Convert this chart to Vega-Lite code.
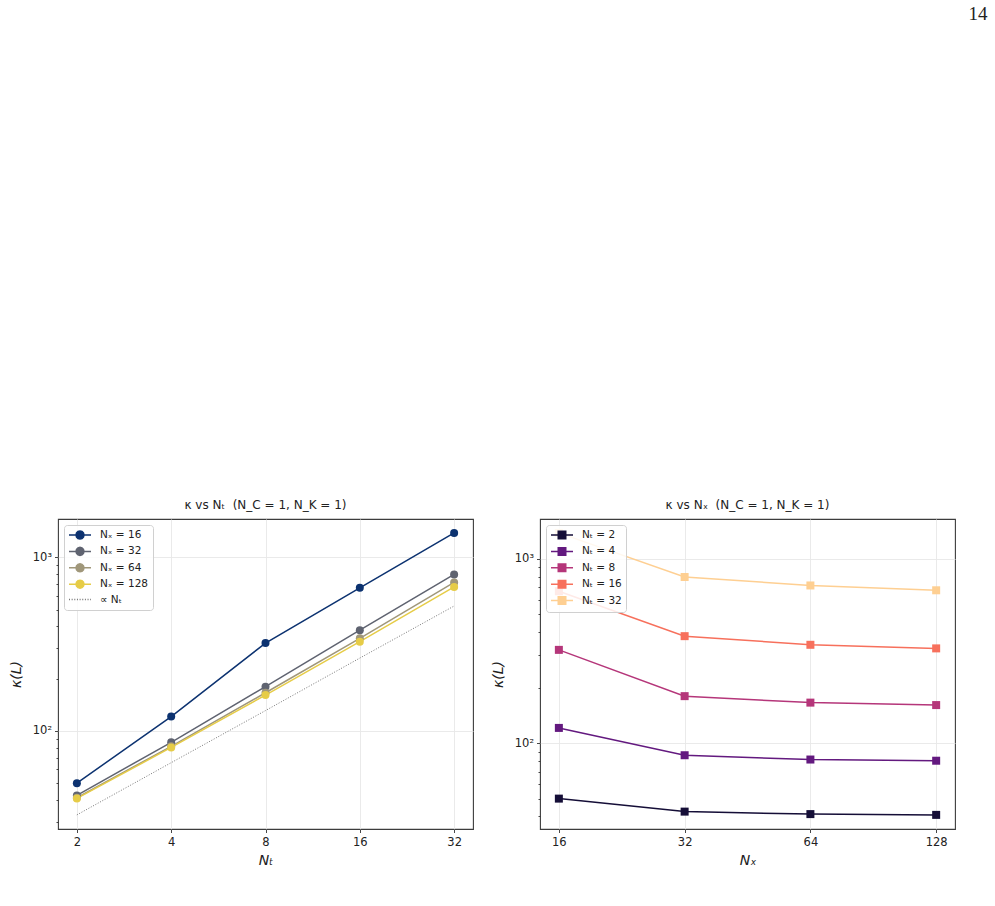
{
  "$schema": "https://vega.github.io/schema/vega-lite/v6.json",
  "padding": {"left": 8, "top": 5, "right": 5, "bottom": 5},
  "title": {"text": "14", "anchor": "end", "font": "Liberation Serif", "fontSize": 19, "fontWeight": "normal", "color": "#222", "offset": 474, "dx": 32},
  "datasets": {
    "kappa": [
      {"Nt": 2, "Nx": 16, "kappa": 50.0, "sx": "Nₓ = 16", "st": "Nₜ = 2"},
      {"Nt": 4, "Nx": 16, "kappa": 121, "sx": "Nₓ = 16", "st": "Nₜ = 4"},
      {"Nt": 8, "Nx": 16, "kappa": 321, "sx": "Nₓ = 16", "st": "Nₜ = 8"},
      {"Nt": 16, "Nx": 16, "kappa": 668, "sx": "Nₓ = 16", "st": "Nₜ = 16"},
      {"Nt": 32, "Nx": 16, "kappa": 1385, "sx": "Nₓ = 16", "st": "Nₜ = 32"},
      {"Nt": 2, "Nx": 32, "kappa": 42.5, "sx": "Nₓ = 32", "st": "Nₜ = 2"},
      {"Nt": 4, "Nx": 32, "kappa": 86, "sx": "Nₓ = 32", "st": "Nₜ = 4"},
      {"Nt": 8, "Nx": 32, "kappa": 180, "sx": "Nₓ = 32", "st": "Nₜ = 8"},
      {"Nt": 16, "Nx": 32, "kappa": 381, "sx": "Nₓ = 32", "st": "Nₜ = 16"},
      {"Nt": 32, "Nx": 32, "kappa": 798, "sx": "Nₓ = 32", "st": "Nₜ = 32"},
      {"Nt": 2, "Nx": 64, "kappa": 41.2, "sx": "Nₓ = 64", "st": "Nₜ = 2"},
      {"Nt": 4, "Nx": 64, "kappa": 81.5, "sx": "Nₓ = 64", "st": "Nₜ = 4"},
      {"Nt": 8, "Nx": 64, "kappa": 166, "sx": "Nₓ = 64", "st": "Nₜ = 8"},
      {"Nt": 16, "Nx": 64, "kappa": 342, "sx": "Nₓ = 64", "st": "Nₜ = 16"},
      {"Nt": 32, "Nx": 64, "kappa": 718, "sx": "Nₓ = 64", "st": "Nₜ = 32"},
      {"Nt": 2, "Nx": 128, "kappa": 40.8, "sx": "Nₓ = 128", "st": "Nₜ = 2"},
      {"Nt": 4, "Nx": 128, "kappa": 80.3, "sx": "Nₓ = 128", "st": "Nₜ = 4"},
      {"Nt": 8, "Nx": 128, "kappa": 161, "sx": "Nₓ = 128", "st": "Nₜ = 8"},
      {"Nt": 16, "Nx": 128, "kappa": 327, "sx": "Nₓ = 128", "st": "Nₜ = 16"},
      {"Nt": 32, "Nx": 128, "kappa": 676, "sx": "Nₓ = 128", "st": "Nₜ = 32"}
    ],
    "ref": [
      {"Nt": 2, "kappa": 32.8, "sx": "∝ Nₜ"},
      {"Nt": 4, "kappa": 65.6, "sx": "∝ Nₜ"},
      {"Nt": 8, "kappa": 131, "sx": "∝ Nₜ"},
      {"Nt": 16, "kappa": 263, "sx": "∝ Nₜ"},
      {"Nt": 32, "kappa": 525, "sx": "∝ Nₜ"}
    ]
  },
  "spacing": 16,
  "hconcat": [
    {
      "width": 415,
      "height": 310,
      "title": {"text": "κ vs Nₜ\u00a0\u00a0(N_C = 1, N_K = 1)"},
      "encoding": {
        "x": {"field": "Nt", "type": "quantitative",
              "scale": {"type": "log", "base": 2, "domain": [1.741, 36.76], "nice": false},
              "axis": {"values": [2, 4, 8, 16, 32], "format": "d", "title": "Nₜ"}},
        "y": {"field": "kappa", "type": "quantitative",
              "scale": {"type": "log", "domain": [27.2, 1666], "nice": false},
              "axis": {"values": [30, 40, 50, 60, 70, 80, 90, 100, 200, 300, 400, 500, 600, 700, 800, 900, 1000],
                       "labelExpr": "datum.value == 100 ? '10²' : datum.value == 1000 ? '10³' : ''",
                       "tickSize": {"condition": {"test": "datum.value == 100 || datum.value == 1000", "value": 3.5}, "value": 2},
                       "gridOpacity": {"condition": {"test": "datum.value == 100 || datum.value == 1000", "value": 1}, "value": 0},
                       "title": "κ(L)"}}
      },
      "layer": [
        {"data": {"name": "ref"}, "mark": {"type": "line", "color": "#777777", "strokeWidth": 1, "strokeDash": [1, 1.65]}},
        {"data": {"name": "kappa"}, "mark": {"type": "line", "strokeWidth": 1.5},
         "encoding": {"color": {"field": "sx", "type": "nominal",
                                "scale": {"domain": ["Nₓ = 16", "Nₓ = 32", "Nₓ = 64", "Nₓ = 128"], "range": ["#0c3270", "#5f6370", "#a0977a", "#e6cc47"]},
                                "legend": null}}},
        {"data": {"name": "kappa"}, "mark": {"type": "point", "filled": true, "shape": "circle", "size": 64, "opacity": 1},
         "encoding": {"color": {"field": "sx", "type": "nominal",
                                "scale": {"domain": ["Nₓ = 16", "Nₓ = 32", "Nₓ = 64", "Nₓ = 128"], "range": ["#0c3270", "#5f6370", "#a0977a", "#e6cc47"]},
                                "legend": null}}},
        {"data": {"name": "kappa"}, "transform": [{"filter": "datum.kappa < 0"}],
         "mark": {"type": "point", "filled": true, "opacity": 1},
         "encoding": {
           "fill": {"field": "sx", "type": "nominal",
                    "scale": {"domain": ["Nₓ = 16", "Nₓ = 32", "Nₓ = 64", "Nₓ = 128", "∝ Nₜ"], "range": ["#0c3270", "#5f6370", "#a0977a", "#e6cc47", "#777777"]},
                    "legend": {"title": null}},
           "stroke": {"field": "sx", "type": "nominal",
                    "scale": {"domain": ["Nₓ = 16", "Nₓ = 32", "Nₓ = 64", "Nₓ = 128", "∝ Nₜ"], "range": ["#0c3270", "#5f6370", "#a0977a", "#e6cc47", "#777777"]},
                    "legend": {"title": null}},
           "shape": {"field": "sx", "type": "nominal",
                    "scale": {"domain": ["Nₓ = 16", "Nₓ = 32", "Nₓ = 64", "Nₓ = 128", "∝ Nₜ"],
                              "range": [
                                "M-2.2,0L2.2,0M0.8,0L0.693,0.4L0.4,0.693L0,0.8L-0.4,0.693L-0.693,0.4L-0.8,0L-0.693,-0.4L-0.4,-0.693L0,-0.8L0.4,-0.693L0.693,-0.4Z",
                                "M-2.2,0L2.2,0M0.8,0L0.693,0.4L0.4,0.693L0,0.8L-0.4,0.693L-0.693,0.4L-0.8,0L-0.693,-0.4L-0.4,-0.693L0,-0.8L0.4,-0.693L0.693,-0.4Z",
                                "M-2.2,0L2.2,0M0.8,0L0.693,0.4L0.4,0.693L0,0.8L-0.4,0.693L-0.693,0.4L-0.8,0L-0.693,-0.4L-0.4,-0.693L0,-0.8L0.4,-0.693L0.693,-0.4Z",
                                "M-2.2,0L2.2,0M0.8,0L0.693,0.4L0.4,0.693L0,0.8L-0.4,0.693L-0.693,0.4L-0.8,0L-0.693,-0.4L-0.4,-0.693L0,-0.8L0.4,-0.693L0.693,-0.4Z",
                                "M-2.2,0L-2.0,0M-1.67,0L-1.47,0M-1.14,0L-0.94,0M-0.61,0L-0.41,0M-0.08,0L0.12,0M0.45,0L0.65,0M0.98,0L1.18,0M1.51,0L1.71,0M2.04,0L2.2,0"
                              ]},
                    "legend": {"title": null}}
         }}
      ]
    },
    {
      "width": 415,
      "height": 310,
      "title": {"text": "κ vs Nₓ\u00a0\u00a0(N_C = 1, N_K = 1)"},
      "encoding": {
        "x": {"field": "Nx", "type": "quantitative",
              "scale": {"type": "log", "base": 2, "domain": [14.42, 142.0], "nice": false},
              "axis": {"values": [16, 32, 64, 128], "format": "d", "title": "Nₓ"}},
        "y": {"field": "kappa", "type": "quantitative",
              "scale": {"type": "log", "domain": [34.2, 1648], "nice": false},
              "axis": {"values": [40, 50, 60, 70, 80, 90, 100, 200, 300, 400, 500, 600, 700, 800, 900, 1000],
                       "labelExpr": "datum.value == 100 ? '10²' : datum.value == 1000 ? '10³' : ''",
                       "tickSize": {"condition": {"test": "datum.value == 100 || datum.value == 1000", "value": 3.5}, "value": 2},
                       "gridOpacity": {"condition": {"test": "datum.value == 100 || datum.value == 1000", "value": 1}, "value": 0},
                       "title": "κ(L)"}}
      },
      "layer": [
        {"data": {"name": "kappa"}, "mark": {"type": "line", "strokeWidth": 1.5},
         "encoding": {"color": {"field": "Nt", "type": "nominal",
                                "scale": {"domain": [2, 4, 8, 16, 32], "range": ["#150e37", "#63197f", "#b5367a", "#f7705c", "#fecf92"]},
                                "legend": null}}},
        {"data": {"name": "kappa"}, "mark": {"type": "point", "filled": true, "shape": "square", "size": 64, "opacity": 1},
         "encoding": {"color": {"field": "Nt", "type": "nominal",
                                "scale": {"domain": [2, 4, 8, 16, 32], "range": ["#150e37", "#63197f", "#b5367a", "#f7705c", "#fecf92"]},
                                "legend": null}}},
        {"data": {"name": "kappa"}, "transform": [{"filter": "datum.kappa < -1"}],
         "mark": {"type": "point", "filled": true, "opacity": 1},
         "encoding": {
           "fill": {"field": "st", "type": "nominal",
                    "scale": {"domain": ["Nₜ = 2", "Nₜ = 4", "Nₜ = 8", "Nₜ = 16", "Nₜ = 32"], "range": ["#150e37", "#63197f", "#b5367a", "#f7705c", "#fecf92"]},
                    "legend": {"title": null}},
           "stroke": {"field": "st", "type": "nominal",
                    "scale": {"domain": ["Nₜ = 2", "Nₜ = 4", "Nₜ = 8", "Nₜ = 16", "Nₜ = 32"], "range": ["#150e37", "#63197f", "#b5367a", "#f7705c", "#fecf92"]},
                    "legend": {"title": null}},
           "shape": {"field": "st", "type": "nominal",
                    "scale": {"domain": ["Nₜ = 2", "Nₜ = 4", "Nₜ = 8", "Nₜ = 16", "Nₜ = 32"],
                              "range": [
                                "M-2.2,0L2.2,0M-0.75,-0.75L0.75,-0.75L0.75,0.75L-0.75,0.75Z",
                                "M-2.2,0L2.2,0M-0.75,-0.75L0.75,-0.75L0.75,0.75L-0.75,0.75Z",
                                "M-2.2,0L2.2,0M-0.75,-0.75L0.75,-0.75L0.75,0.75L-0.75,0.75Z",
                                "M-2.2,0L2.2,0M-0.75,-0.75L0.75,-0.75L0.75,0.75L-0.75,0.75Z",
                                "M-2.2,0L2.2,0M-0.75,-0.75L0.75,-0.75L0.75,0.75L-0.75,0.75Z"
                              ]},
                    "legend": {"title": null}}
         }}
      ]
    }
  ],
  "resolve": {"scale": {"fill": "independent", "stroke": "independent", "shape": "independent", "color": "independent"}, "legend": {"fill": "independent", "stroke": "independent", "shape": "independent", "color": "independent"}},
  "config": {
    "font": "DejaVu Sans",
    "view": {"stroke": "#3c3c3c", "strokeWidth": 1.1},
    "axis": {"labelFontSize": 11.5, "labelColor": "#222", "tickColor": "#333", "tickWidth": 0.9, "domain": false,
             "gridColor": "#e8e8e8", "gridWidth": 0.9, "titleFontSize": 14, "titleFontWeight": "normal",
             "titleFontStyle": "italic", "titleColor": "#222"},
    "axisX": {"tickSize": 3.5, "labelPadding": 4, "titlePadding": 5},
    "axisY": {"labelPadding": 3, "titlePadding": 9},
    "title": {"fontSize": 12, "fontWeight": "normal", "color": "#222", "offset": 7},
    "legend": {"orient": "top-left", "offset": 6, "padding": 4, "fillColor": "rgba(255,255,255,0.85)", "strokeColor": "#d0d0d0",
               "cornerRadius": 3, "labelFontSize": 10.5, "labelColor": "#222", "symbolSize": 100, "symbolStrokeWidth": 1.5,
               "symbolOffset": 6, "labelOffset": 14, "rowPadding": 2.4}
  }
}
